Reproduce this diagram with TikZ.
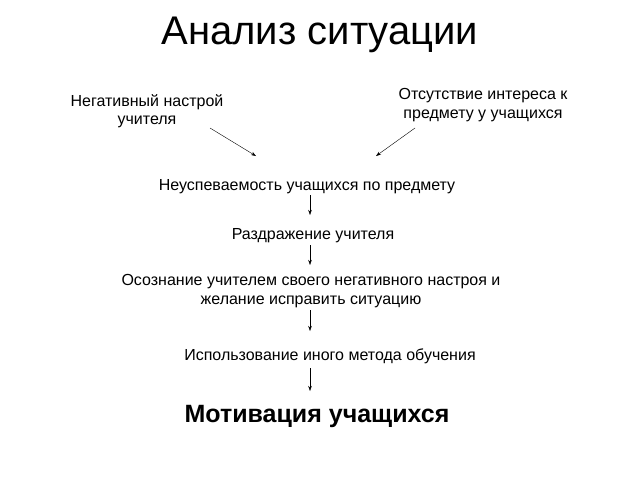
\documentclass[tikz,border=0pt]{standalone}
\usepackage{fontspec}
\setmainfont{Liberation Sans}
\usetikzlibrary{arrows.meta}
\begin{document}
\begin{tikzpicture}[x=1pt, y=-1pt,
    txt/.style ={font=\fontsize{16}{18.5}\selectfont, align=center, inner sep=0pt},
    arr/.style ={-{Stealth[length=5pt,width=3.5pt]}, thin}]
   \useasboundingbox (0,0) rectangle (640,480);
   \node[font=\fontsize{40}{44}\selectfont, inner sep=0pt] (title) at (320,35) {Анализ ситуации};

   \node[txt] (mood)   at (147,111) {Негативный настрой\\учителя};
   \node[txt] (intr)   at (483,105) {Отсутствие интереса к\\предмету у учащихся};
   \coordinate (mood1) at (210,128);
   \coordinate (mood2) at (256,156);
   \coordinate (intr1) at (415,128);
   \coordinate (intr2) at (376,156);
   \node[txt] (fail)   at (307,187) {Неуспеваемость учащихся по предмету};
   \node[txt] (anger)  at (313,236) {Раздражение учителя};
   \node[txt] (aware)  at (311,291) {Осознание учителем своего негативного настроя и\\желание исправить ситуацию};
   \node[txt] (method) at (330,356) {Использование иного метода обучения};
   \node[font=\bfseries\fontsize{25}{28}\selectfont, inner sep=0pt] (motiv) at (317,416) {Мотивация учащихся};

   \draw[arr] (mood1) to (mood2);
   \draw[arr] (intr1) to (intr2);
   \draw[arr] (310,195) to (310,215);
   \draw[arr] (310,245) to (310,265);
   \draw[arr] (310,310) to (310,331);
   \draw[arr] (310,368) to (310,391);
 \end{tikzpicture}
\end{document}
